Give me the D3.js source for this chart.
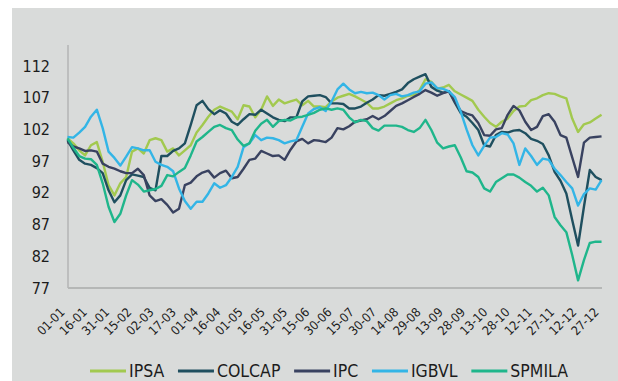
<!DOCTYPE html>
<html><head><meta charset="utf-8">
<script src="https://cdn.jsdelivr.net/npm/d3@7"></script>
<style>html,body{margin:0;padding:0;background:#fff;} svg{display:block}</style>
</head><body><svg id="c" width="618" height="381"></svg>
<script>
// ---- data ----
const seriesNames = ["IPSA", "COLCAP", "IPC", "IGBVL", "SPMILA"];
const seriesColors = ["#a2c94f", "#1f4f5f", "#394260", "#33b5e6", "#1fb68b"];

const ipsa = [100.6, 99.8, 98.7, 97.9, 99.5, 100, 96.9, 93.2, 91.6, 93.5,
 94.5, 98.5, 99, 98.2, 100.3, 100.6, 100.3, 98.5, 99, 97.9,
 98.7, 99.5, 101.5, 102.7, 104, 105.1, 105.6, 105.2, 104.8, 103.6,
 105.8, 105.6, 103.9, 105.1, 107.2, 105.7, 106.7, 106.1, 106.4, 106.7,
 105.8, 106.5, 105.6, 105.6, 105.5, 106.4, 107, 107.3, 107.6, 107.2,
 106.7, 106.2, 105.3, 105.3, 105.6, 106.1, 106.6, 106.9, 107.3, 107.4,
 108.2, 109.9, 109.5, 108.4, 108.6, 109, 108, 107.5, 107, 106.5,
 105.1, 104, 103, 102.4, 103.2, 103.7, 104.9, 105.6, 105.7, 106.6,
 106.9, 107.4, 107.7, 107.6, 107.2, 106.9, 103.7, 101.6, 102.8, 103.1,
 103.7, 104.3];

const colcap = [100.3, 98.7, 97.2, 96.6, 96.4, 95.9, 95.1, 92.4, 90.5, 91.6,
 94, 94.9, 94.7, 94.5, 92.8, 92.4, 97.8, 97.8, 98.6, 99,
 99.8, 102.7, 105.8, 106.5, 105.2, 104.4, 105, 104.5, 103.2, 102.7,
 103.6, 104.4, 104.3, 105.1, 104.5, 103.9, 103.5, 103.3, 103.9, 103.9,
 106.4, 107.2, 107.3, 107.4, 107.1, 106.1, 106.1, 106, 105.3, 105.3,
 105.6, 106.2, 106.7, 107.4, 107.3, 107.6, 107.9, 108.3, 109.3, 109.9,
 110.3, 110.7, 108.7, 108.1, 107.8, 108, 106.2, 104.6, 104, 103,
 101.9, 99.5, 99.3, 101.1, 101.6, 101.5, 101.8, 101.9, 101.4, 100.5,
 100.2, 99.7, 97.9, 95.3, 93.9, 91.9, 87.7, 83.7, 89.8, 95.6,
 94.5, 94];

const ipc = [100, 99.3, 99, 98.6, 98.7, 98.5, 96.6, 96.1, 95.8, 95.4,
 95.1, 95.1, 95.8, 94.8, 91.6, 90.7, 91, 90.1, 88.9, 89.5,
 93.2, 93.6, 94.6, 95.2, 95.5, 94.4, 95.1, 95.5, 94.3, 94.5,
 95.8, 97.2, 97.4, 98.6, 98.2, 97.8, 97.9, 97.2, 98.8, 100.1,
 100.5, 99.8, 100.3, 100.2, 100, 100.7, 102.2, 102, 102.5, 103.2,
 103.4, 103.6, 104.1, 103.6, 104.1, 104.9, 105.7, 106.1, 106.6, 107.1,
 107.6, 108.2, 107.8, 107.3, 107.7, 108, 106.4, 104.9, 104.5, 104.2,
 103, 101.1, 101, 102, 102.2, 104.3, 105.7, 105, 103.2, 101.9,
 102.4, 104.1, 104.4, 103.2, 101.1, 100.7, 97.6, 94.5, 99.9, 100.7,
 100.8, 100.9];

const igbvl = [100.8, 100.7, 101.5, 102.4, 104, 105.1, 102.2, 98.5, 97.5, 96.3,
 97.7, 99.2, 99, 98.7, 98.7, 96.9, 96.4, 96.1, 95.4, 92.7,
 90.7, 89.5, 90.6, 90.6, 91.9, 93.5, 92.8, 93.2, 94.5, 96.1,
 99.2, 99.8, 101.1, 100.3, 100.7, 100.6, 100.3, 99.8, 100.1, 100.3,
 102.4, 104.5, 105.2, 105.5, 104.9, 106.4, 108.3, 109.2, 108.3, 107.7,
 107.9, 107.7, 107.8, 107.4, 106.7, 107.4, 107.6, 107.2, 107.4, 107.8,
 108, 109.2, 109.4, 108.5, 108.4, 108, 107.1, 104.8, 102, 99.5,
 97.9, 99.4, 100.7, 100.8, 101.4, 101.2, 99.8, 96.4, 99, 97.8,
 96.4, 97.4, 97.2, 95.8, 94.8, 93.7, 92.7, 90, 91.8, 92.7,
 92.5, 94];

const spmila = [100.6, 99.1, 97.8, 97.4, 97.3, 96.4, 93.5, 89.8, 87.4, 88.7,
 91.6, 94, 93.3, 92.2, 92.4, 92.6, 93.1, 94.8, 94.6, 95.3,
 95.9, 97.9, 100.1, 100.8, 101.6, 102.4, 102.7, 102.2, 101.9, 100.4,
 99.4, 99.8, 101.8, 102.9, 103.5, 102.4, 103.3, 103.5, 103.4, 103.9,
 104, 104.3, 104.6, 105.1, 105.3, 105.1, 105.3, 105.1, 103.9, 103.1,
 103.5, 103.3, 102.2, 101.8, 102.6, 102.6, 102.6, 102.4, 101.9, 101.6,
 102.2, 103.5, 101.9, 99.9, 99, 99.3, 99.5, 97.6, 95.4, 95.2,
 94.5, 92.7, 92.2, 93.7, 94.3, 94.9, 94.9, 94.4, 93.7, 93.1,
 92.2, 92.8, 91.6, 88.2, 86.9, 85.8, 82.2, 78.2, 81.4, 84.1,
 84.3, 84.3];

const xTickLabels = ["01-01","16-01","31-01","15-02","02-03","17-03","01-04","16-04",
 "01-05","16-05","31-05","15-06","30-06","15-07","30-07","14-08","29-08","13-09",
 "28-09","13-10","28-10","12-11","27-11","12-12","27-12"];
const yTickValues = [77, 82, 87, 92, 97, 102, 107, 112];

// ---- layout ----
const allSeries = [ipsa, colcap, ipc, igbvl, spmila];
const year = 2018;
const DAY = 864e5;
const t0 = Date.UTC(year, 0, 1);
const x = d3.scaleUtc().domain([new Date(t0), new Date(Date.UTC(year, 11, 31))]).range([66, 606]);
const y = d3.scaleLinear().domain([77, 115.3]).range([288, 45]);
const plotLeft = 68, plotRight = 602;
const nPts = ipsa.length;
const dateOf = i => new Date(t0 + (1 + i * 360 / (nPts - 1)) * DAY);

const svg = d3.select("#c");
svg.append("rect").attr("x", 12).attr("y", 8).attr("width", 606).attr("height", 373).attr("fill", "#d9dbda");

const fontFam = "'DejaVu Sans Condensed', 'DejaVu Sans', sans-serif";

// y axis
const yAx = svg.append("g").attr("transform", `translate(${plotLeft},0)`)
  .call(d3.axisLeft(y).tickValues(yTickValues).tickSize(0).tickPadding(18).tickFormat(d3.format("d")));
yAx.select(".domain").remove();
yAx.selectAll("text").attr("fill", "#1c1c1c").style("font-family", fontFam).style("font-size", "16px");

svg.append("line").attr("x1", plotLeft).attr("x2", plotLeft).attr("y1", 45).attr("y2", y(77))
  .attr("stroke", "#b3b5b4").attr("stroke-width", 1.5);

// lines
const line = d3.line().x((d, i) => x(dateOf(i))).y(d => y(d));
allSeries.forEach((s, k) => {
  svg.append("path").datum(s).attr("d", line).attr("fill", "none")
    .attr("stroke", seriesColors[k]).attr("stroke-width", 2.4).attr("stroke-linejoin", "round");
});

// x axis
svg.append("line").attr("x1", plotLeft).attr("x2", plotRight).attr("y1", y(77)).attr("y2", y(77))
  .attr("stroke", "#b5b7b6").attr("stroke-width", 2);
const tickDates = xTickLabels.map(s => { const [dd, mm] = s.split("-").map(Number); return new Date(Date.UTC(year, mm - 1, dd)); });
const xAx = svg.append("g").attr("transform", `translate(0,${y(77)})`)
  .call(d3.axisBottom(x).tickValues(tickDates).tickSize(0).tickFormat((d, i) => xTickLabels[i]));
xAx.select(".domain").remove();
xAx.selectAll("text").attr("y", 0).attr("dy", 0).attr("transform", "translate(-1,25) rotate(-45)")
  .style("text-anchor", "end").attr("fill", "#1c1c1c").style("font-family", fontFam).style("font-size", "12.5px");

// legend
const lg = svg.append("g").attr("transform", "translate(0,371)");
const lineLen = 36, gap = 3;
const items = seriesNames.map((n, k) => {
  const g = lg.append("g");
  g.append("line").attr("x1", 0).attr("x2", lineLen).attr("stroke", seriesColors[k]).attr("stroke-width", 3);
  const t = g.append("text").attr("x", lineLen + gap).attr("dy", "0.36em").text(n)
    .attr("fill", "#1c1c1c").style("font-family", fontFam).style("font-size", "17.5px");
  return { g, w: lineLen + gap + t.node().getComputedTextLength() };
});
const legL = 90, legR = 568;
const sumW = d3.sum(items, d => d.w);
const itemGap = (legR - legL - sumW) / (items.length - 1);
let cx = legL;
items.forEach(it => { it.g.attr("transform", `translate(${cx},0)`); cx += it.w + itemGap; });
</script>
</body></html>
